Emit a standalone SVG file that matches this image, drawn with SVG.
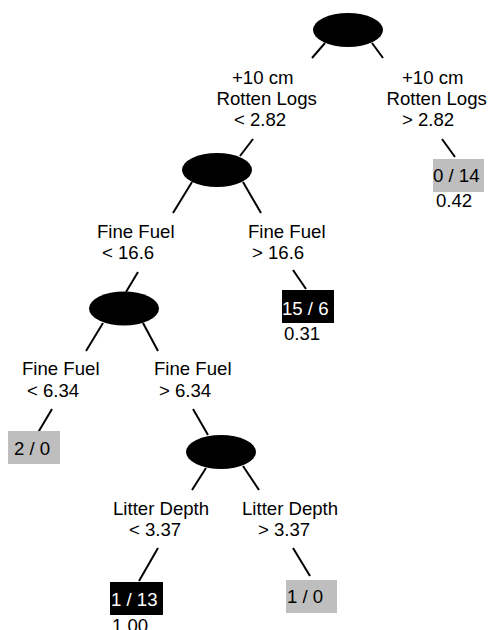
<svg xmlns="http://www.w3.org/2000/svg" width="489" height="630" viewBox="0 0 489 630">
<style>
text{font-family:"Liberation Sans",Arial,sans-serif;font-size:18.6px;fill:#000}
.c line{stroke:#000;stroke-width:2;stroke-linecap:butt}
.sp{fill:#000}
.g{fill:#bebebe}
.b{fill:#000}
text.w{fill:#fff}
</style>
<rect width="489" height="630" fill="#fff"/>
<g id="connectors" class="c">
<line x1="325" y1="43" x2="312" y2="58"/>
<line x1="372" y1="43" x2="383" y2="58"/>
<line x1="442" y1="139" x2="455" y2="157"/>
<line x1="253" y1="139" x2="240" y2="156"/>
<line x1="192" y1="182" x2="173" y2="213"/>
<line x1="243" y1="182" x2="261" y2="213"/>
<line x1="293" y1="270" x2="306" y2="289"/>
<line x1="138" y1="272" x2="126" y2="292"/>
<line x1="103" y1="323" x2="86" y2="351"/>
<line x1="143" y1="323" x2="158" y2="351"/>
<line x1="52" y1="409" x2="36" y2="436"/>
<line x1="193" y1="409" x2="208" y2="435"/>
<line x1="206" y1="468" x2="192" y2="490"/>
<line x1="243" y1="466" x2="259" y2="490"/>
<line x1="158" y1="548" x2="139" y2="581"/>
<line x1="293" y1="548" x2="310" y2="576"/>
</g>
<g id="node1"><ellipse class="sp" cx="348" cy="30" rx="35" ry="17"/></g>
<g id="label1L"><text x="232" y="83.5">+10 cm</text><text x="216.5" y="104.5">Rotten Logs</text><text x="234" y="126">&lt; 2.82</text></g>
<g id="label1R"><text x="402" y="83.5">+10 cm</text><text x="386.5" y="104.5">Rotten Logs</text><text x="402" y="126">&gt; 2.82</text></g>
<g id="leaf1"><rect class="g" x="433" y="159" width="51" height="33"/><text x="433" y="182">0 / 14</text><text x="436" y="207">0.42</text></g>
<g id="node2"><ellipse class="sp" cx="217" cy="170" rx="35" ry="17"/></g>
<g id="label2L"><text x="97" y="238">Fine Fuel</text><text x="102" y="259">&lt; 16.6</text></g>
<g id="label2R"><text x="248" y="238">Fine Fuel</text><text x="252" y="259">&gt; 16.6</text></g>
<g id="leaf2"><rect class="b" x="282" y="290" width="52" height="33"/><text class="w" x="282" y="315">15 / 6</text><text x="284" y="340">0.31</text></g>
<g id="node3"><ellipse class="sp" cx="124" cy="308.5" rx="35" ry="17"/></g>
<g id="label3L"><text x="22" y="375">Fine Fuel</text><text x="27" y="397">&lt; 6.34</text></g>
<g id="label3R"><text x="154" y="375">Fine Fuel</text><text x="159" y="397">&gt; 6.34</text></g>
<g id="leaf3"><rect class="g" x="8" y="431" width="52" height="33"/><text x="14" y="455">2 / 0</text></g>
<g id="node4"><ellipse class="sp" cx="221" cy="452" rx="35" ry="17"/></g>
<g id="label4L"><text x="113" y="515">Litter Depth</text><text x="129" y="536">&lt; 3.37</text></g>
<g id="label4R"><text x="242" y="515">Litter Depth</text><text x="258" y="536">&gt; 3.37</text></g>
<g id="leaf4"><rect class="b" x="110" y="582" width="53" height="33"/><text class="w" x="111" y="606">1 / 13</text><text x="112" y="632">1.00</text></g>
<g id="leaf5"><rect class="g" x="286" y="580" width="51" height="33"/><text x="287" y="603">1 / 0</text></g>
</svg>
